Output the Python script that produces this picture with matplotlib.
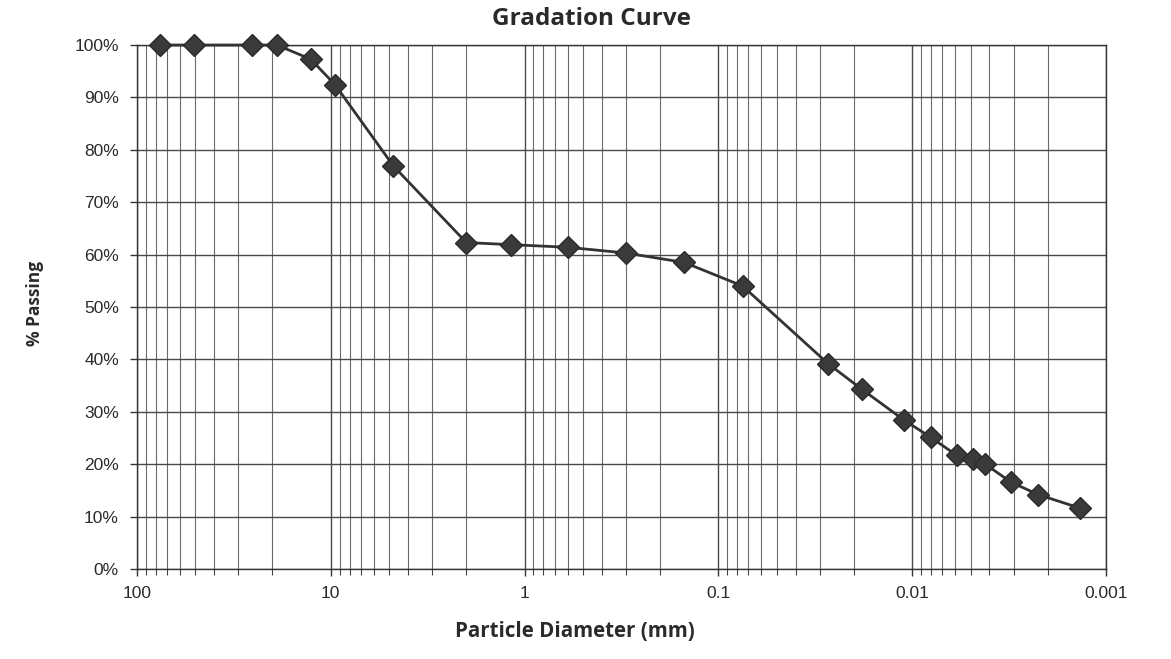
import matplotlib.pyplot as plt
from matplotlib.ticker import FixedLocator, LogLocator, NullFormatter, PercentFormatter

# sieve / hydrometer results
diameter_mm = [76.2, 50.8, 25.4, 19.0, 12.7, 9.5, 4.75, 2.0, 1.18, 0.6, 0.3, 0.15,
               0.075, 0.0272, 0.0182, 0.0110, 0.0080, 0.0059, 0.00485, 0.0042,
               0.0031, 0.00224, 0.00136]
percent_passing = [100, 100, 100, 100, 97.3, 92.4, 76.9, 62.3, 61.9, 61.4, 60.3, 58.5,
                   54.0, 39.2, 34.3, 28.4, 25.1, 21.7, 20.9, 20.0,
                   16.6, 14.2, 11.6]
x_ticks = [100, 10, 1, 0.1, 0.01, 0.001]
x_tick_labels = ['100', '10', '1', '0.1', '0.01', '0.001']

fig = plt.figure(figsize=(11.71, 6.59), dpi=100)
ax = fig.add_axes([0.117, 0.1366, 0.8275, 0.7951])

ax.set_xscale('log')
ax.set_xlim(100, 0.001)
ax.set_ylim(0, 100)

ax.xaxis.set_major_locator(FixedLocator(x_ticks))
ax.set_xticklabels(x_tick_labels)
ax.xaxis.set_minor_locator(LogLocator(base=10, subs=range(2, 10), numticks=50))
ax.xaxis.set_minor_formatter(NullFormatter())
ax.set_yticks(range(0, 101, 10))
ax.yaxis.set_major_formatter(PercentFormatter(decimals=0))

ax.grid(True, which='major', color='#4a4a4a', linewidth=1.0)
ax.grid(True, which='minor', axis='x', color='#6a6a6a', linewidth=0.8)
ax.set_axisbelow(True)

ax.tick_params(axis='both', which='major', direction='out', length=5, width=1,
               color='#333333', labelsize=12.5, labelcolor='#2a2a2a')
ax.tick_params(axis='x', which='minor', direction='out', length=4, width=0.8, color='#444444')
ax.tick_params(axis='x', which='major', pad=7)
ax.tick_params(axis='y', which='major', pad=8)
for lbl in ax.get_xticklabels() + ax.get_yticklabels():
    lbl.set_family('Liberation Sans')

for side in ax.spines.values():
    side.set_color('#333333')
    side.set_linewidth(1.0)

ax.plot(diameter_mm, percent_passing, color='#333333', linewidth=2,
        marker='D', markersize=11, markerfacecolor='#3a3a3a',
        markeredgecolor='#2a2a2a', zorder=5, clip_on=False)

# titles placed in figure coordinates
fig.text(0.505, 0.971, 'Gradation Curve', ha='center', va='center', fontsize=17.5,
         fontweight='bold', family='Open Sans', color='#2a2a2a')
fig.text(0.491, 0.041, 'Particle Diameter (mm)', ha='center', va='center', fontsize=14.8,
         fontweight='bold', family='Open Sans', color='#2a2a2a')
fig.text(0.030, 0.540, '% Passing', ha='center', va='center', rotation=90, fontsize=12.5,
         fontweight='bold', family='Open Sans', color='#2a2a2a')

fig.savefig('out.png', dpi=100, facecolor='white')
